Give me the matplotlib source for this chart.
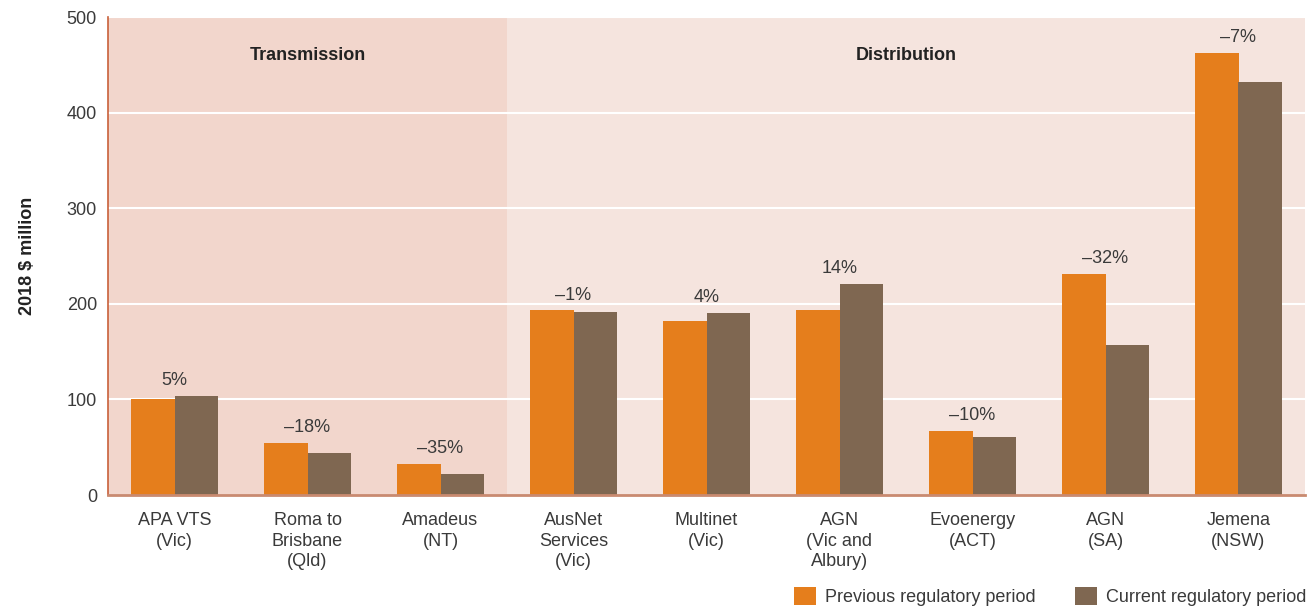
import matplotlib
matplotlib.use("Agg")
import matplotlib.pyplot as plt
import numpy as np

plt.rcParams['font.family'] = ['Liberation Sans', 'DejaVu Sans']

categories = ["APA VTS\n(Vic)", "Roma to\nBrisbane\n(Qld)", "Amadeus\n(NT)", "AusNet\nServices\n(Vic)",
              "Multinet\n(Vic)", "AGN\n(Vic and\nAlbury)", "Evoenergy\n(ACT)", "AGN\n(SA)", "Jemena\n(NSW)"]
previous = [100, 54, 32, 193, 182, 194, 67, 231, 462]
current = [104, 44, 22, 191, 190, 221, 61, 157, 432]
changes = ["5%", "\u201318%", "\u201335%", "\u20131%", "4%", "14%", "\u201310%", "\u201332%", "\u20137%"]
yticks = [0, 100, 200, 300, 400, 500]

c_prev = "#e57e1c"
c_cur = "#7f6751"
txt = "#3a3a3a"
fs = 13

fig = plt.figure(figsize=(13.09, 6.08), dpi=100)
ax = fig.add_axes([108/1309, 1-495/608, (1305-108)/1309, (495-17)/608])

x = np.arange(len(categories))
w = 0.33
ax.axvspan(-0.5, 2.5, color="#f2d6cc", zorder=0, lw=0)
ax.axvspan(2.5, 8.5, color="#f5e4de", zorder=0, lw=0)
for t in yticks[1:]:
    ax.axhline(t, color="white", lw=1.5, zorder=1)

ax.bar(x - w/2, previous, w, color=c_prev, zorder=2, label="Previous regulatory period")
ax.bar(x + w/2, current, w, color=c_cur, zorder=2, label="Current regulatory period")

for i, lab in enumerate(changes):
    top = max(previous[i], current[i])
    ax.annotate(lab, (x[i], top), xytext=(0, 5), textcoords="offset points",
                ha="center", va="bottom", fontsize=fs, color=txt)

ax.text(1.0, 460, "Transmission", ha="center", va="center", fontsize=fs, fontweight="bold", color="#222222")
ax.text(5.5, 460, "Distribution", ha="center", va="center", fontsize=fs, fontweight="bold", color="#222222")

ax.set_xlim(-0.5, 8.5)
ax.set_ylim(0, 500)
ax.set_yticks(yticks)
ax.set_xticks(x)
ax.set_xticklabels(categories, fontsize=fs, color=txt, va="top", linespacing=1.3)
ax.tick_params(axis="both", length=0, labelsize=fs, labelcolor=txt)
ax.tick_params(axis="y", pad=8)
ax.tick_params(axis="x", pad=12)
ax.set_ylabel("2018 $ million", fontsize=fs, fontweight="bold", color="#222222", labelpad=22)

for s in ["top", "right"]:
    ax.spines[s].set_visible(False)
ax.spines["left"].set_color("#c8603a")
ax.spines["left"].set_linewidth(1.2)
ax.spines["bottom"].set_color("#c98a70")
ax.spines["bottom"].set_linewidth(2)

fig.legend(loc="lower right", bbox_to_anchor=(1306/1309, 2/608), ncol=2, frameon=False, fontsize=fs,
           handlelength=1.2, handleheight=1.2, columnspacing=2.2, handletextpad=0.5,
           labelcolor=txt, borderaxespad=0, borderpad=0)

fig.savefig("out.png", dpi=100)
